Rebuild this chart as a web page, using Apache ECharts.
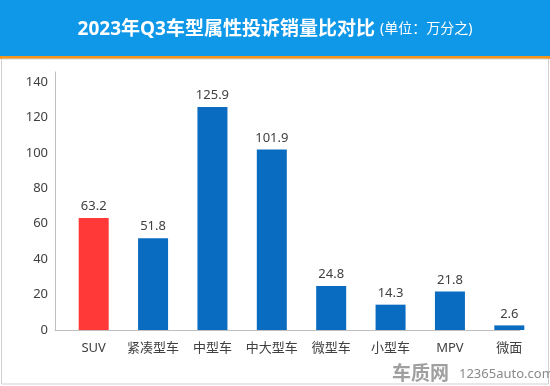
<!DOCTYPE html>
<html>
<head>
<meta charset="utf-8">
<script src="https://cdn.jsdelivr.net/npm/echarts@6/dist/echarts.min.js"></script>
<style>html,body{margin:0;padding:0;background:#fff;}#c{width:550px;height:386px;}</style>
</head>
<body>
<div id="c"></div>
<script>
const categories = ['SUV', '紧凑型车', '中型车', '中大型车', '微型车', '小型车', 'MPV', '微面'];
const values = [63.2, 51.8, 125.9, 101.9, 24.8, 14.3, 21.8, 2.6];
const highlightCategory = 'SUV';
const titleMain = '2023年Q3车型属性投诉销量比对比';
const titleUnit = '(单位：万分之)';

const FONT = '"Noto Sans", "Noto Sans CJK SC", sans-serif';
const chart = echarts.init(document.getElementById('c'), null, {renderer: 'canvas'});
chart.setOption({
  backgroundColor: '#ffffff',
  animation: false,
  graphic: [
    {type: 'rect', z: -10, shape: {x: 0, y: 0, width: 550, height: 56}, style: {fill: '#0f97e8'}},
    {type: 'rect', z: -10, shape: {x: 0, y: 56, width: 550, height: 3}, style: {fill: '#f2961c'}},
    {type: 'rect', z: -10, shape: {x: 1.5, y: 59, width: 547, height: 325}, style: {fill: '#fff', stroke: '#d0d0d0', lineWidth: 1}},
    {type: 'text', left: 459, top: 368, style: {text: '12365auto.com', fill: '#8a8a8a', font: '13px ' + FONT}},
    {type: 'text', left: 392, top: 363, style: {text: '车质网', fill: '#a0a0a0', font: 'bold 19px "Noto Sans CJK SC", sans-serif'}}
  ],
  title: {
    left: 'center', top: 15,
    text: '{a|' + titleMain + '} {b|' + titleUnit + '}',
    textStyle: {
      rich: {
        a: {color: '#fff', fontSize: 19, fontWeight: 'bold', fontFamily: FONT},
        b: {color: '#fff', fontSize: 14, fontWeight: 'normal', fontFamily: FONT}
      }
    }
  },
  grid: [
    {left: 64, right: 11, top: 82, bottom: 56},
    {left: 55, right: 30, top: 72, bottom: 56}
  ],
  xAxis: [
    {
      type: 'category', gridIndex: 0, data: categories,
      axisLine: {show: false}, axisTick: {show: false},
      axisLabel: {color: '#404040', fontSize: 13, margin: 12, fontFamily: FONT, interval: 0}
    },
    {
      type: 'category', gridIndex: 1, data: [],
      axisLine: {show: true, lineStyle: {color: '#bfbfbf', width: 1}},
      axisTick: {show: false}, axisLabel: {show: false}
    }
  ],
  yAxis: [
    {
      type: 'value', gridIndex: 0, min: 0, max: 140, interval: 20,
      axisLine: {show: false}, axisTick: {show: false}, splitLine: {show: false},
      axisLabel: {color: '#404040', fontSize: 13, margin: 16, fontFamily: FONT}
    },
    {
      type: 'value', gridIndex: 1, min: 0, max: 1,
      axisLine: {show: true, lineStyle: {color: '#bfbfbf', width: 1}},
      axisTick: {show: false}, splitLine: {show: false}, axisLabel: {show: false}
    }
  ],
  series: [{
    type: 'bar', xAxisIndex: 0, yAxisIndex: 0,
    barWidth: 30,
    data: values.map((v, i) => ({
      value: v,
      itemStyle: {color: categories[i] === highlightCategory ? '#ff3838' : '#0a6cc0'}
    })),
    label: {show: true, position: 'top', distance: 5, color: '#404040', fontSize: 13, fontFamily: FONT}
  }]
});
</script>
</body>
</html>
